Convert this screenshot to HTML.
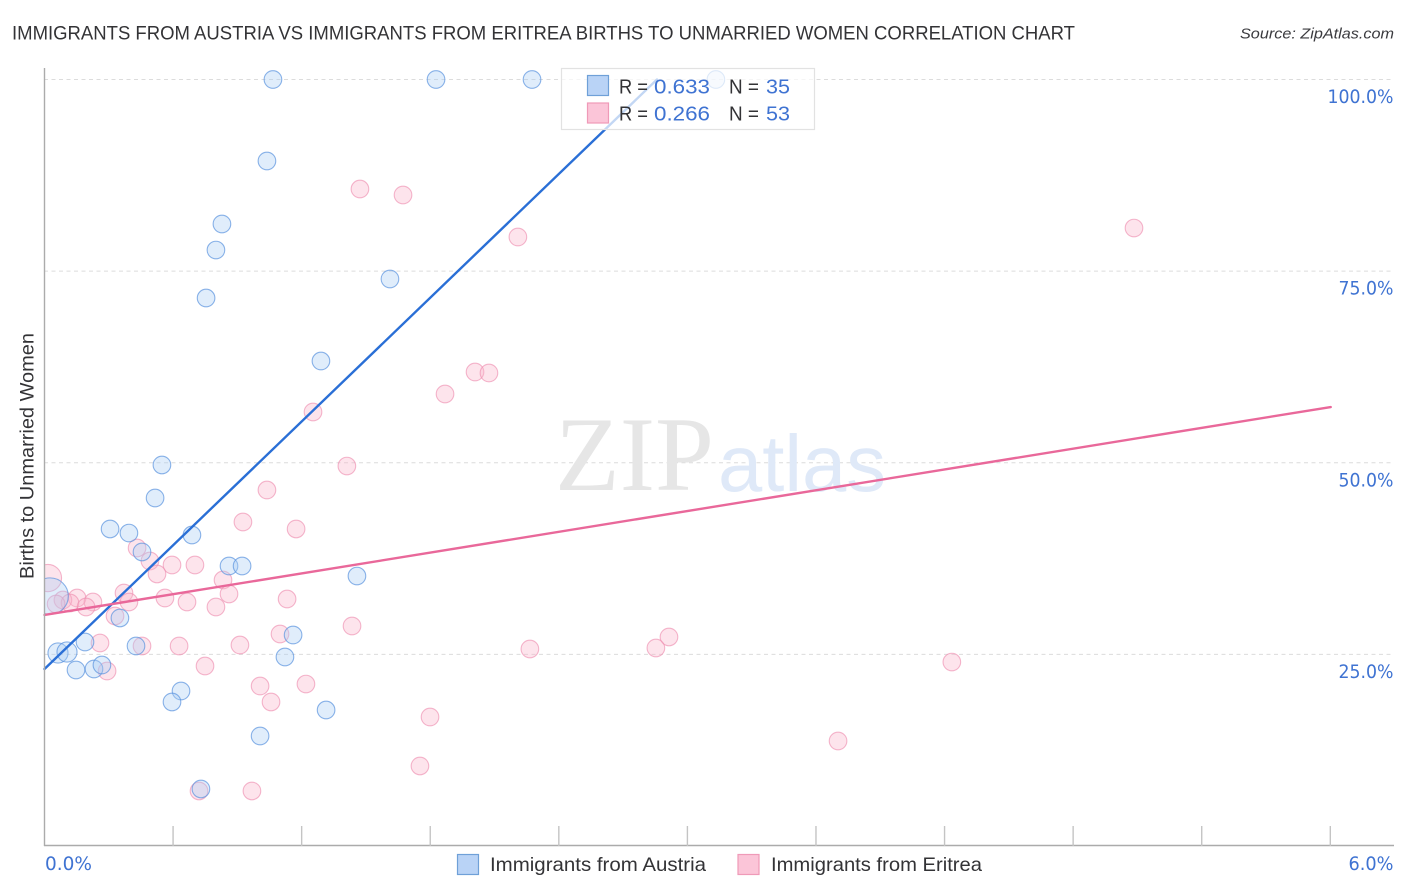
<!DOCTYPE html>
<html lang="en">
<head>
<meta charset="utf-8">
<title>Immigrants from Austria vs Immigrants from Eritrea Births to Unmarried Women Correlation Chart</title>
<style>
  html, body { margin: 0; padding: 0; background: #fff; }
  svg { display: block; font-family: "Liberation Sans", sans-serif; }
</style>
</head>
<body>
<svg id="chart" xmlns="http://www.w3.org/2000/svg" width="1406" height="892" viewBox="0 0 1406 892">
  <defs>
    <clipPath id="plot-clip"><rect x="45" y="60" width="1350" height="786"></rect></clipPath>
  </defs>
  <rect x="0" y="0" width="1406" height="892" fill="#ffffff"></rect>
  <text x="12" y="39.5" font-size="19.5" fill="#333336" textLength="1063" lengthAdjust="spacingAndGlyphs">IMMIGRANTS FROM AUSTRIA VS IMMIGRANTS FROM ERITREA BIRTHS TO UNMARRIED WOMEN CORRELATION CHART</text>
  <text x="1394" y="38.5" font-size="15" font-style="italic" fill="#3a3a3e" text-anchor="end" textLength="154" lengthAdjust="spacingAndGlyphs">Source: ZipAtlas.com</text>
  <g id="grid"></g>
  <g>
    <text x="555" y="490" font-family="'Liberation Serif', serif" font-size="106" fill="#e6e6e6" textLength="159" lengthAdjust="spacingAndGlyphs">ZIP</text>
    <text x="718" y="491" font-size="80" fill="#dfe9f8" textLength="168" lengthAdjust="spacingAndGlyphs">atlas</text>
  </g>
  <g id="points" clip-path="url(#plot-clip)"></g>
  <g id="trends"></g>
  <g id="axes"></g>
  <text transform="translate(33.5 456) rotate(-90)" font-size="19.5" fill="#333336" text-anchor="middle" textLength="246" lengthAdjust="spacingAndGlyphs">Births to Unmarried Women</text>

  <g>
    <rect x="561.5" y="68.5" width="253" height="61" fill="#ffffff" fill-opacity="0.72" stroke="#e2e2e2" stroke-width="1.2"></rect>
    <rect x="587.5" y="75.5" width="21" height="20" fill="#b9d3f6" stroke="#6fa0d8" stroke-width="1.2"></rect>
    <rect x="587.5" y="103" width="21" height="20" fill="#fbc5d8" stroke="#ef9ab8" stroke-width="1.2"></rect>
    <g font-size="20.5" fill="#333336">
      <text x="619" y="93.5" textLength="29" lengthAdjust="spacingAndGlyphs">R =</text>
      <text x="654" y="93.5" fill="#3f73d2" textLength="56" lengthAdjust="spacingAndGlyphs">0.633</text>
      <text x="729" y="93.5" textLength="30" lengthAdjust="spacingAndGlyphs">N =</text>
      <text x="766" y="93.5" fill="#3f73d2" textLength="24" lengthAdjust="spacingAndGlyphs">35</text>
      <text x="619" y="120.5" textLength="29" lengthAdjust="spacingAndGlyphs">R =</text>
      <text x="654" y="120.5" fill="#3f73d2" textLength="56" lengthAdjust="spacingAndGlyphs">0.266</text>
      <text x="729" y="120.5" textLength="30" lengthAdjust="spacingAndGlyphs">N =</text>
      <text x="766" y="120.5" fill="#3f73d2" textLength="24" lengthAdjust="spacingAndGlyphs">53</text>
    </g>
  </g>

  <g>
    <g>
      <rect x="457.5" y="854.5" width="21" height="20" fill="#b9d3f6" stroke="#6fa0d8" stroke-width="1.2"></rect>
      <text x="490" y="871" font-size="19.5" fill="#333336" textLength="216" lengthAdjust="spacingAndGlyphs">Immigrants from Austria</text>
    </g>
    <g>
      <rect x="738" y="854.5" width="21" height="20" fill="#fbc5d8" stroke="#ef9ab8" stroke-width="1.2"></rect>
      <text x="771" y="871" font-size="19.5" fill="#333336" textLength="211" lengthAdjust="spacingAndGlyphs">Immigrants from Eritrea</text>
    </g>
  </g>
</svg>
<script>
// Chart data: x = share of immigrants (%), y = births to unmarried women (%)
const austriaX = [1.066, 1.827, 2.275, 3.133, 1.038, 0.828, 0.800, 0.754, 1.612, 1.290, 0.548, 0.516, 0.306, 0.394, 0.688, 0.455, 0.861, 0.922, 1.458, 0.352, 1.160, 0.189, 0.427, 0.063, 0.105, 1.122, 0.147, 0.231, 0.268, 0.637, 0.595, 1.314, 1.006, 0.730, 0.026];
const austriaY = [100, 100, 100, 100, 89.37, 81.15, 77.75, 71.49, 73.97, 63.27, 49.71, 45.40, 41.36, 40.83, 40.57, 38.36, 36.53, 36.53, 35.22, 29.75, 27.53, 26.61, 26.09, 25.18, 25.31, 24.66, 22.96, 23.09, 23.61, 20.22, 18.79, 17.74, 14.35, 7.44, 32.60];
const austriaWeight = [1, 1, 1, 1, 1, 1, 1, 1, 1, 1, 1, 1, 1, 1, 1, 1, 1, 1, 1, 1, 1, 1, 1, 1.3, 1.3, 1, 1, 1, 1, 1, 1, 1, 1, 1, 4.3];
const eritreaX = [1.472, 1.673, 2.209, 5.084, 2.009, 2.074, 1.869, 1.253, 1.411, 1.038, 0.926, 1.174, 0.432, 0.492, 0.595, 0.702, 0.525, 0.833, 0.371, 0.861, 0.562, 1.132, 0.152, 0.226, 0.394, 0.665, 0.800, 0.086, 0.119, 0.054, 0.194, 0.329, 1.435, 1.099, 2.914, 0.912, 0.259, 0.455, 0.628, 2.265, 2.853, 0.749, 0.292, 4.234, 1.220, 1.006, 1.057, 1.799, 3.703, 1.752, 0.721, 0.968, 0.016];
const eritreaY = [85.71, 84.93, 79.45, 80.62, 61.84, 61.71, 58.97, 56.62, 49.57, 46.44, 42.27, 41.36, 38.88, 37.18, 36.66, 36.66, 35.49, 34.70, 33.01, 32.88, 32.35, 32.22, 32.35, 31.83, 31.83, 31.83, 31.18, 32.09, 31.70, 31.57, 31.18, 30.01, 28.70, 27.66, 27.27, 26.22, 26.48, 26.09, 26.09, 25.70, 25.83, 23.48, 22.83, 24.00, 21.13, 20.87, 18.79, 16.83, 13.70, 10.44, 7.18, 7.18, 34.96];
const eritreaWeight = [1, 1, 1, 1, 1, 1, 1, 1, 1, 1, 1, 1, 1, 1, 1, 1, 1, 1, 1, 1, 1, 1, 1, 1, 1, 1, 1, 1, 1, 1, 1, 1, 1, 1, 1, 1, 1, 1, 1, 1, 1, 1, 1, 1, 1, 1, 1, 1, 1, 1, 1, 1, 2.4];
const austriaTrendX = [0, 2.858];
const austriaTrendY = [23.09, 100];
const eritreaTrendX = [0, 6.002];
const eritreaTrendY = [30.14, 57.27];
const yTickValues = [25, 50, 75, 100];
const yTickLabels = ["25.0%", "50.0%", "75.0%", "100.0%"];
const xTickValues = [0.6, 1.2, 1.8, 2.4, 3.0, 3.6, 4.2, 4.8, 5.4, 6.0];
const xEdgeLabels = ["0.0%", "6.0%"];

const SVG_NS = "http://www.w3.org/2000/svg";
function xScale(v) { return 44.5 + v * 214.3; }
function yScale(v) { return 846 - v * 7.665; }
function radius(w) { return 8.8 * Math.sqrt(w); }
function make(tag, attrs, parent) {
  const el = document.createElementNS(SVG_NS, tag);
  for (const k in attrs) el.setAttribute(k, attrs[k]);
  parent.appendChild(el);
  return el;
}

const gridGroup = document.getElementById("grid");
const axesGroup = document.getElementById("axes");
const pointsGroup = document.getElementById("points");
const trendsGroup = document.getElementById("trends");

// Gridlines and y tick labels
yTickValues.forEach(function (v, i) {
  const line = make("line", { x1: 44, x2: 1393, y1: yScale(v), y2: yScale(v), stroke: "#dcdcdc", "stroke-width": 1, "stroke-dasharray": "4 3.5" }, gridGroup);
  
  
  const label = make("text", { x: 1393.5, y: yScale(v) + 23.5, "text-anchor": "end", "font-size": 19, fill: "#3f73d2", "font-family": "'DejaVu Sans', sans-serif", textLength: yTickLabels[i].length * 11, lengthAdjust: "spacingAndGlyphs" }, axesGroup);
  label.textContent = yTickLabels[i];
  
  
});

// Axis lines
const yAxisLine = make("line", { x1: 44.5, x2: 44.5, y1: 68, y2: 846, stroke: "#ababab", "stroke-width": 1.4 }, axesGroup);


const xAxisLine = make("line", { x1: 44, x2: 1394, y1: 845.5, y2: 845.5, stroke: "#ababab", "stroke-width": 1.4 }, axesGroup);



xTickValues.forEach(function (v) {
  const tick = make("line", { x1: xScale(v), x2: xScale(v), y1: 826, y2: 846, stroke: "#c4c4c4", "stroke-width": 1.4 }, axesGroup);
  
  
});

const xLabelLeft = make("text", { x: 45, y: 870, "font-size": 19, fill: "#3f73d2", "font-family": "'DejaVu Sans', sans-serif", textLength: 47, lengthAdjust: "spacingAndGlyphs" }, axesGroup);
xLabelLeft.textContent = xEdgeLabels[0];


const xLabelRight = make("text", { x: 1393.5, y: 870, "text-anchor": "end", "font-size": 19, fill: "#3f73d2", "font-family": "'DejaVu Sans', sans-serif", textLength: 45, lengthAdjust: "spacingAndGlyphs" }, axesGroup);
xLabelRight.textContent = xEdgeLabels[1];



// Points
eritreaX.forEach(function (v, i) {
  const c = make("circle", { cx: xScale(v), cy: yScale(eritreaY[i]), r: radius(eritreaWeight[i]), fill: "#f9b4cb", "fill-opacity": 0.36, stroke: "#ee8fb0", "stroke-opacity": 0.65, "stroke-width": 1.1 }, pointsGroup);
  
  
});
austriaX.forEach(function (v, i) {
  const c = make("circle", { cx: xScale(v), cy: yScale(austriaY[i]), r: radius(austriaWeight[i]), fill: "#a9ccf5", "fill-opacity": 0.36, stroke: "#5a93de", "stroke-opacity": 0.7, "stroke-width": 1.1 }, pointsGroup);
  
  
});

// Trend lines
const austriaTrend = make("line", { x1: xScale(austriaTrendX[0]), y1: yScale(austriaTrendY[0]), x2: xScale(austriaTrendX[1]), y2: yScale(austriaTrendY[1]), stroke: "#2a6fd6", "stroke-width": 2.4, "stroke-linecap": "round" }, trendsGroup);


const eritreaTrend = make("line", { x1: xScale(eritreaTrendX[0]), y1: yScale(eritreaTrendY[0]), x2: xScale(eritreaTrendX[1]), y2: yScale(eritreaTrendY[1]), stroke: "#e9689a", "stroke-width": 2.4, "stroke-linecap": "round" }, trendsGroup);


</script>
</body>
</html>
